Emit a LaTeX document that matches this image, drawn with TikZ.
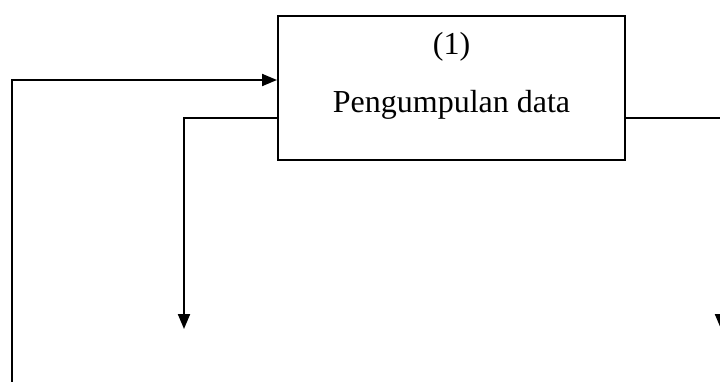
\documentclass[tikz,border=0pt]{standalone}
\usepackage{fontspec}
\setmainfont{Liberation Serif}
\usetikzlibrary{arrows.meta}
\begin{document}
\begin{tikzpicture}[x=1pt,y=1pt,
  line/.style={line width=2pt},
  arr/.style={line, -{Triangle[length=15pt,width=12pt]}},
  boxnode/.style={draw, line width=2pt, minimum width=347pt, minimum height=144pt, inner sep=0pt},
  lbl/.style={font=\fontsize{32}{38}\selectfont, inner sep=0pt}]
\clip (0,0) rectangle (720,-381);
\node[boxnode] (a) at (451.5,-88) {};
\node[lbl] (n1) at (451.5,-47) {(1)};
\node[lbl, anchor=base] (n2) at (451.5,-112) {Pengumpulan data};
\coordinate (l0) at (12,-385);
\coordinate (t1) at (184,-329);
\coordinate (t2) at (721,-329);
\draw[arr] (l0) |- ([yshift=8pt]a.west);
\draw[arr] ([yshift=-30pt]a.west) -| (t1);
\draw[arr] ([yshift=-30pt]a.east) -| (t2);
\end{tikzpicture}
\end{document}
